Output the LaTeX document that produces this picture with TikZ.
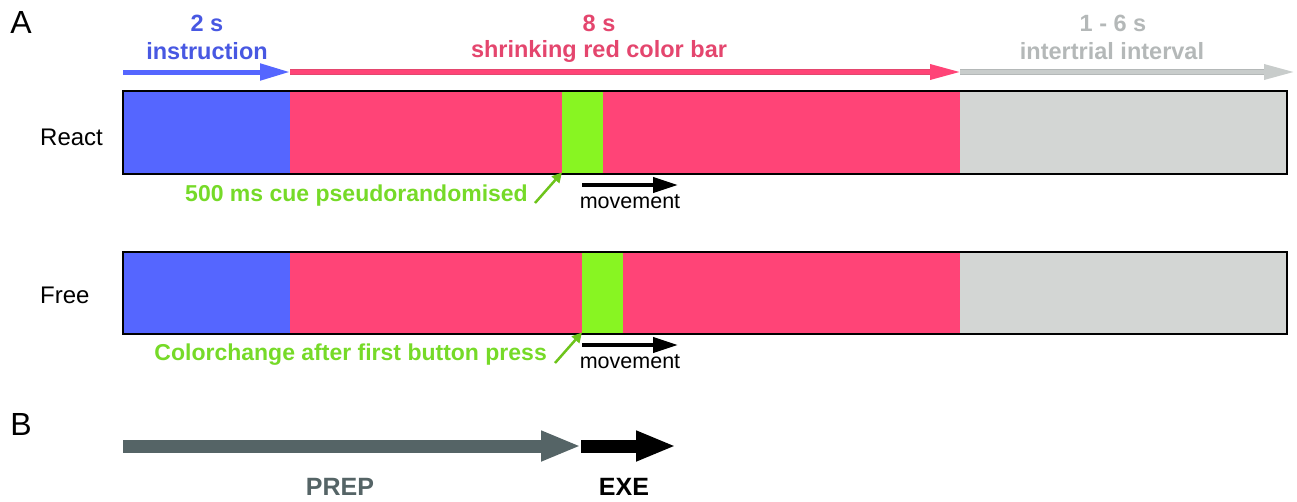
\documentclass[tikz,border=0pt]{standalone}
\usepackage{fontspec}
\setmainfont{Liberation Sans}
\usetikzlibrary{arrows.meta}

\definecolor{instrblue}{RGB}{85,102,255}
\definecolor{instrtext}{RGB}{72,88,226}
\definecolor{barred}{RGB}{255,68,119}
\definecolor{redtext}{RGB}{228,70,110}
\definecolor{itigray}{RGB}{211,214,212}
\definecolor{itiarrow}{RGB}{200,204,203}
\definecolor{ititext}{RGB}{180,184,184}
\definecolor{cuegreen}{RGB}{136,245,34}
\definecolor{cuetext}{RGB}{118,218,40}
\definecolor{prepgray}{RGB}{85,100,102}

\tikzset{
  seg/.style={rectangle, draw=none, inner sep=0pt, anchor=north west},
  toplabel/.style={inner sep=0pt, font=\fontsize{23.5}{25}\selectfont\bfseries},
  rowlabel/.style={inner sep=0pt, anchor=west, font=\fontsize{24}{26}\selectfont},
  cuelabel/.style={inner sep=0pt, anchor=east, text=cuetext, font=\fontsize{23}{25}\selectfont\bfseries},
  movelabel/.style={inner sep=0pt, font=\fontsize{21.5}{23}\selectfont},
  cuearrow/.style={cuegreen!80!black, line width=2.5pt, -{Triangle[length=10pt,width=10pt]}},
  movearrow/.style={black, line width=4pt, -{Triangle[length=25pt,width=15pt]}},
  phaselabel/.style={inner sep=0pt, font=\fontsize{25}{27}\selectfont\bfseries},
}

\begin{document}
\begin{tikzpicture}[x=1pt,y=-1pt]
\useasboundingbox (0,0) rectangle (1297,501);

\node[inner sep=0pt, font=\fontsize{32}{34}\selectfont] (labA) at (21,22) {A};

% time line on top
\coordinate (t0) at (123,72);
\coordinate (t1) at (290,72);
\coordinate (t2) at (960,72);
\coordinate (t3) at (1294,72);
\draw[line width=5pt, instrblue, -{Triangle[length=30pt,width=16pt]}] (t0) -- (t1);
\draw[line width=5.5pt, redtext] (t1) -- ([xshift=-29pt]t2);
\draw[line width=3.5pt, barred, -{Triangle[length=30pt,width=15pt]}] (t1) -- (t2);
\draw[line width=5.5pt, ititext] (t2) -- ([xshift=-29pt]t3);
\draw[line width=3.5pt, itiarrow, -{Triangle[length=30pt,width=15pt]}] (t2) -- (t3);

\node[toplabel, text=instrtext] (dur1) at (207,23) {2 s};
\node[toplabel, text=instrtext] (name1) at (207,51) {instruction};
\node[toplabel, text=redtext] (dur2) at (599,23) {8 s};
\node[toplabel, text=redtext] (name2) at (599,51) {shrinking red color bar};
\node[toplabel, text=ititext] (dur3) at (1113,23) {1 - 6 s};
\node[toplabel, text=ititext] (name3) at (1112,51) {intertrial interval};

% React trial
\node[rowlabel] (react) at (40,137) {React};
\node[seg, fill=instrblue, minimum width=167pt, minimum height=83pt] (rInstr) at (123,91) {};
\node[seg, fill=barred, minimum width=670pt, minimum height=83pt] (rBar) at (290,91) {};
\node[seg, fill=cuegreen, minimum width=41pt, minimum height=83pt] (rCue) at (562,91) {};
\node[seg, fill=itigray, minimum width=327pt, minimum height=83pt] (rIti) at (960,91) {};
\draw[line width=2pt] (rInstr.north west) rectangle (rIti.south east);
\coordinate (rTail) at (535,203);
\draw[cuearrow] (rTail) -- ([yshift=2pt]rCue.south west);
\node[cuelabel] (rText) at (528,196) {500 ms cue pseudorandomised};
\coordinate (rMove) at (582,185);
\draw[movearrow] (rMove) -- ++(96,0);
\node[movelabel] (rMoveText) at (630,202) {movement};

% Free trial
\node[rowlabel] (free) at (40,295) {Free};
\node[seg, fill=instrblue, minimum width=167pt, minimum height=82pt] (fInstr) at (123,252) {};
\node[seg, fill=barred, minimum width=670pt, minimum height=82pt] (fBar) at (290,252) {};
\node[seg, fill=cuegreen, minimum width=41pt, minimum height=82pt] (fCue) at (582,252) {};
\node[seg, fill=itigray, minimum width=327pt, minimum height=82pt] (fIti) at (960,252) {};
\draw[line width=2pt] (fInstr.north west) rectangle (fIti.south east);
\coordinate (fTail) at (555,363);
\draw[cuearrow] (fTail) -- ([yshift=2pt]fCue.south west);
\node[cuelabel] (fText) at (547,355) {Colorchange after first button press};
\coordinate (fMove) at (582,345);
\draw[movearrow] (fMove) -- ++(96,0);
\node[movelabel] (fMoveText) at (630,362) {movement};

% B: phases
\node[inner sep=0pt, font=\fontsize{32}{34}\selectfont] (labB) at (21,424) {B};
\coordinate (p0) at (123,446);
\coordinate (p1) at (581,446);
\coordinate (p2) at (676,446);
\draw[line width=13pt, prepgray, -{Triangle[length=40pt,width=28pt]}] (p0) -- (p1);
\draw[line width=13pt, black, -{Triangle[length=40pt,width=28pt]}] (p1) -- (p2);
\node[phaselabel, text=prepgray] (prep) at (340,487) {PREP};
\node[phaselabel] (exe) at (624,487) {EXE};
\end{tikzpicture}
\end{document}
